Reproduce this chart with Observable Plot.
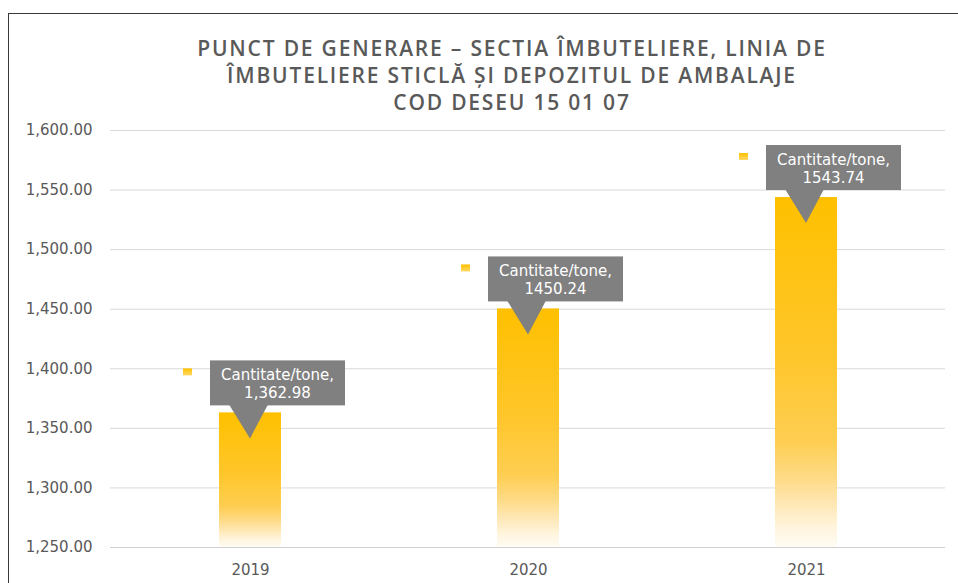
<!DOCTYPE html>
<html>
<head>
<meta charset="utf-8">
<script src="https://cdn.jsdelivr.net/npm/d3@7"></script>
<script src="https://cdn.jsdelivr.net/npm/@observablehq/plot@0.6"></script>
<style>
  html, body { margin: 0; padding: 0; background: #fff; overflow: hidden; }
  #wrap { position: relative; width: 958px; height: 583px; overflow: hidden; }
  #frame { position: absolute; left: 8px; top: 13px; width: 1200px; height: 1200px; border: 1.5px solid #3a3a3a; box-sizing: border-box; }
  #title { position: absolute; left: 62px; width: 900px; top: 35px; text-align: center;
    font-family: "Open Sans", Lato, sans-serif; font-weight: 600; font-size: 21px; line-height: 27px;
    color: #595959; letter-spacing: 1.8px; }
  #chart { position: absolute; left: 0; top: 110px; }
</style>
</head>
<body>
<div id="wrap">
  <div id="frame"></div>
  <div id="title">PUNCT DE GENERARE – SECTIA ÎMBUTELIERE, LINIA DE<br>ÎMBUTELIERE STICLĂ ȘI DEPOZITUL DE AMBALAJE<br>COD DESEU 15 01 07</div>
  <div id="chart"></div>
</div>
<script>
const years = ["2019", "2020", "2021"];
const values = [1362.98, 1450.24, 1543.74];
const valueLabels = ["1,362.98", "1450.24", "1543.74"];
const seriesName = "Cantitate/tone,";
const yTicks = [1250, 1300, 1350, 1400, 1450, 1500, 1550, 1600];

const data = years.map((y, i) => ({year: y, value: values[i]}));

const FONT = "'DejaVu Sans', Verdana, sans-serif";

function defs() {
  const d = d3.create("svg:defs");
  const g = d.append("linearGradient").attr("id", "barGrad").attr("x1", 0).attr("y1", 0).attr("x2", 0).attr("y2", 1);
  [[0, "#FFC000"], [0.45, "#FFC62A"], [0.7, "#FECE52"], [0.8, "#FEDA85"], [0.88, "#FEE8B6"], [0.95, "#FFF5E0"], [1, "#FFFCF4"]]
    .forEach(([o, c]) => g.append("stop").attr("offset", o).attr("stop-color", c));
  const g2 = d.append("linearGradient").attr("id", "sqGrad").attr("x1", 0).attr("y1", 0).attr("x2", 0).attr("y2", 1);
  [[0, "#FFC000"], [1, "#FFD966"]].forEach(([o, c]) => g2.append("stop").attr("offset", o).attr("stop-color", c));
  return d.node();
}

function callouts(index, scales) {
  const sx = scales.x, sy = scales.y;
  const bw = typeof sx.bandwidth === "function" ? sx.bandwidth() : (sx.bandwidth || 0);
  const g = d3.create("svg:g");
  data.forEach((d, i) => {
    const cx = sx(d.year) + bw / 2;
    const ty = sy(d.value);
    const bx = cx - 40, bwid = 135, bh = 45, by = ty - 52;
    g.append("polygon")
      .attr("points", `${cx - 21},${by + bh - 1} ${cx + 18},${by + bh - 1} ${cx},${ty + 26}`)
      .attr("fill", "#808080");
    g.append("rect").attr("x", bx).attr("y", by).attr("width", bwid).attr("height", bh).attr("fill", "#808080");
    g.append("rect").attr("x", cx - 67).attr("y", by + 8).attr("width", 9).attr("height", 7).attr("fill", "url(#sqGrad)");
    const t = g.append("text").attr("fill", "#ffffff").attr("font-family", FONT).attr("font-size", 15)
      .attr("text-anchor", "middle");
    t.append("tspan").attr("x", bx + bwid / 2).attr("y", by + 20).text(seriesName);
    t.append("tspan").attr("x", bx + bwid / 2).attr("y", by + 38).text(valueLabels[i]);
  });
  return g.node();
}

const chart = Plot.plot({
  width: 958,
  height: 473,
  marginLeft: 110,
  marginRight: 13,
  marginTop: 20,
  marginBottom: 36,
  style: {fontFamily: FONT, fontSize: "15px", color: "#595959", background: "transparent"},
  x: {domain: years, paddingInner: 0.777, paddingOuter: 0.3885, label: null, tickSize: 0, tickPadding: 17},
  y: {domain: [1250, 1600], ticks: yTicks, tickFormat: d3.format(",.2f"), label: null, tickSize: 0, tickPadding: 18},
  marks: [
    defs,
    Plot.gridY(yTicks, {stroke: "#d9d9d9", strokeOpacity: 1, strokeWidth: 1}),
    Plot.ruleY([1250], {stroke: "#d0d0d0", strokeWidth: 1}),
    Plot.barY(data, {x: "year", y1: 1250, y2: "value", fill: "url(#barGrad)"}),
    callouts
  ]
});
document.getElementById("chart").appendChild(chart);
</script>
</body>
</html>
